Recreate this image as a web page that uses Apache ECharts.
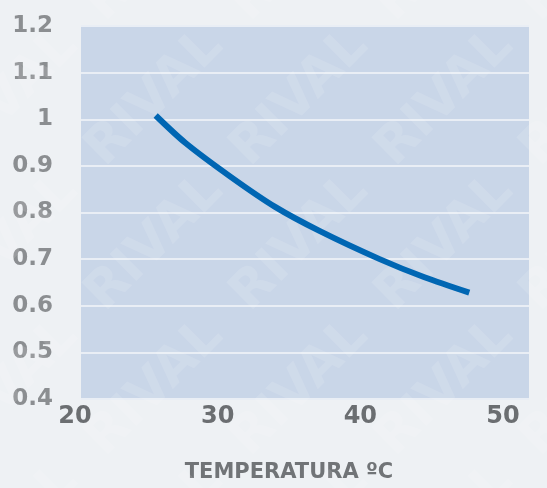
<!DOCTYPE html>
<html>
<head>
<meta charset="utf-8">
<script src="https://cdn.jsdelivr.net/npm/echarts@6/dist/echarts.min.js"></script>
<style>
html,body{margin:0;padding:0;background:#eef1f4;}
#chart{width:547px;height:488px;}
</style>
</head>
<body>
<div id="chart"></div>
<script>
// Data
const temperature = [25, 27, 30, 33, 36, 40, 43, 46];
const factor = [1.008, 0.949, 0.877, 0.812, 0.760, 0.700, 0.661, 0.628];
const xTicks = [20, 30, 40, 50];
const yTicks = [0.4, 0.5, 0.6, 0.7, 0.8, 0.9, 1, 1.1, 1.2];
const xTitle = 'TEMPERATURA ºC';
const watermark = 'RIVAL';

const chart = echarts.init(document.getElementById('chart'));

const wm = [];
for (let j = -1; j < 5; j++) {
  for (let i = -1; i < 5; i++) {
    wm.push({
      type: 'text',
      x: 10 + 145 * i,
      y: 98 + 145 * j,
      rotation: Math.PI / 4,
      z: 1,
      silent: true,
      style: {
        text: watermark,
        fill: 'rgba(255,255,255,0.12)',
        font: 'bold 52px "DejaVu Sans"',
        align: 'center',
        verticalAlign: 'middle'
      }
    });
  }
}

chart.setOption({
  backgroundColor: '#eef1f4',
  animation: false,
  grid: [
    { left: 81, top: 26, width: 448, height: 373, show: true, backgroundColor: '#c9d6e8', borderWidth: 0 },
    { left: 75, top: 26, width: 428, height: 373, show: false }
  ],
  xAxis: [
    {
      type: 'value', gridIndex: 0, min: xTicks[0], max: xTicks[xTicks.length - 1], interval: 10,
      axisLine: { show: false }, axisTick: { show: false }, axisLabel: { show: false }, splitLine: { show: false }
    },
    {
      type: 'value', gridIndex: 1, min: xTicks[0], max: xTicks[xTicks.length - 1], interval: 10,
      axisLine: { show: false }, axisTick: { show: false }, splitLine: { show: false },
      axisLabel: { margin: 22, color: '#6b6e71', fontFamily: 'DejaVu Sans', fontWeight: 'bold', fontSize: 24 },
      name: xTitle, nameLocation: 'middle', nameGap: 79,
      nameTextStyle: { color: '#717477', fontFamily: 'DejaVu Sans', fontWeight: 'bold', fontSize: 21 }
    }
  ],
  yAxis: [
    {
      type: 'value', gridIndex: 0, min: yTicks[0], max: yTicks[yTicks.length - 1], interval: 0.1,
      axisLine: { show: false }, axisTick: { show: false },
      axisLabel: { margin: 28, color: '#8b8e91', fontFamily: 'DejaVu Sans', fontWeight: 'bold', fontSize: 23,
        formatter: v => String(Math.round(v * 10) / 10) },
      splitLine: { show: true, lineStyle: { color: '#e9eef5', width: 2 } }
    },
    {
      type: 'value', gridIndex: 1, show: false, min: 0, max: 1
    }
  ],
  graphic: wm,
  series: [{
    type: 'line',
    xAxisIndex: 0, yAxisIndex: 0,
    data: temperature.map((t, i) => [t, factor[i]]),
    smooth: 0.3,
    showSymbol: false,
    z: 5,
    lineStyle: { color: '#0066b3', width: 6 }
  }]
});
</script>
</body>
</html>
